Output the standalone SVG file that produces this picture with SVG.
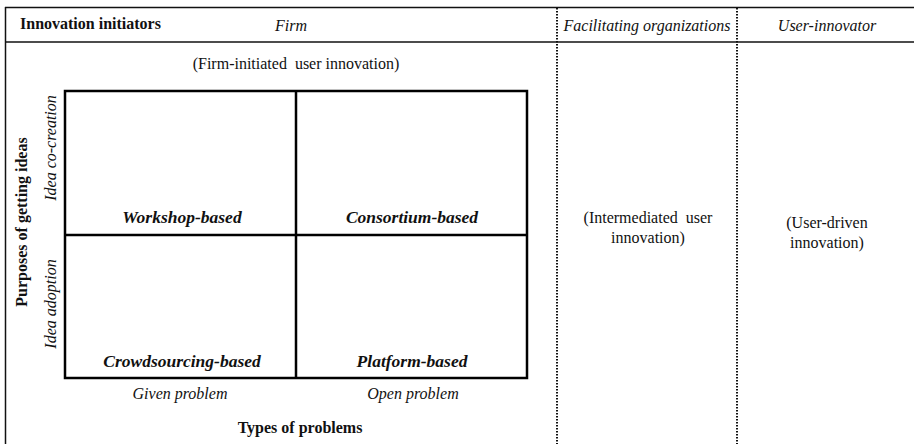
<svg xmlns="http://www.w3.org/2000/svg" width="914" height="444" viewBox="0 0 914 444">
<style>
text{font-family:"Liberation Serif","Times New Roman",serif;fill:#111;font-size:16px}
.b{font-weight:bold}
.i{font-style:italic}
.bi{font-weight:bold;font-style:italic;font-size:17.5px}
.m{text-anchor:middle}
.frame{stroke:#111;stroke-width:1.5;fill:none}
.dot{stroke:#111;stroke-width:2;stroke-dasharray:1.5 1.5;fill:none}
.grid{stroke:#000;stroke-width:2.5;fill:none}
</style>
<rect width="914" height="444" fill="#fff"/>
<g id="frame">
<line class="frame" x1="5" y1="7.5" x2="914" y2="7.5"/>
<line class="frame" x1="5" y1="42" x2="914" y2="42"/>
<line class="frame" x1="5.5" y1="7" x2="5.5" y2="444"/>
<line class="dot" x1="557" y1="8" x2="557" y2="444"/>
<line class="dot" x1="737" y1="8" x2="737" y2="444"/>
</g>
<g id="header">
<text class="b" x="20" y="29">Innovation initiators</text>
<text class="i m" x="291" y="31">Firm</text>
<text class="i m" x="647" y="31">Facilitating organizations</text>
<text class="i m" x="827" y="31">User-innovator</text>
</g>
<text class="m" x="296" y="69" xml:space="preserve">(Firm-initiated  user innovation)</text>
<g id="matrix">
<rect class="grid" x="65" y="91" width="462" height="287"/>
<line class="grid" x1="296" y1="91" x2="296" y2="378"/>
<line class="grid" x1="65" y1="235" x2="527" y2="235"/>
</g>
<g id="workshop"><text class="bi m" x="182" y="223">Workshop-based</text></g>
<g id="consortium"><text class="bi m" x="412" y="223">Consortium-based</text></g>
<g id="crowdsourcing"><text class="bi m" x="182" y="367">Crowdsourcing-based</text></g>
<g id="platform"><text class="bi m" x="412" y="367">Platform-based</text></g>
<text class="i m" x="180" y="399">Given problem</text>
<text class="i m" x="413" y="399">Open problem</text>
<text class="b m" x="300" y="433">Types of problems</text>
<text class="b m" transform="translate(27,222) rotate(-90)">Purposes of getting ideas</text>
<text class="i m" transform="translate(56,148) rotate(-90)">Idea co-creation</text>
<text class="i m" transform="translate(56,304) rotate(-90)">Idea adoption</text>
<g id="intermediated">
<text class="m" x="648" y="223" xml:space="preserve">(Intermediated  user</text>
<text class="m" x="648" y="243">innovation)</text>
</g>
<g id="userdriven">
<text class="m" x="827" y="228">(User-driven</text>
<text class="m" x="827" y="248">innovation)</text>
</g>
</svg>
